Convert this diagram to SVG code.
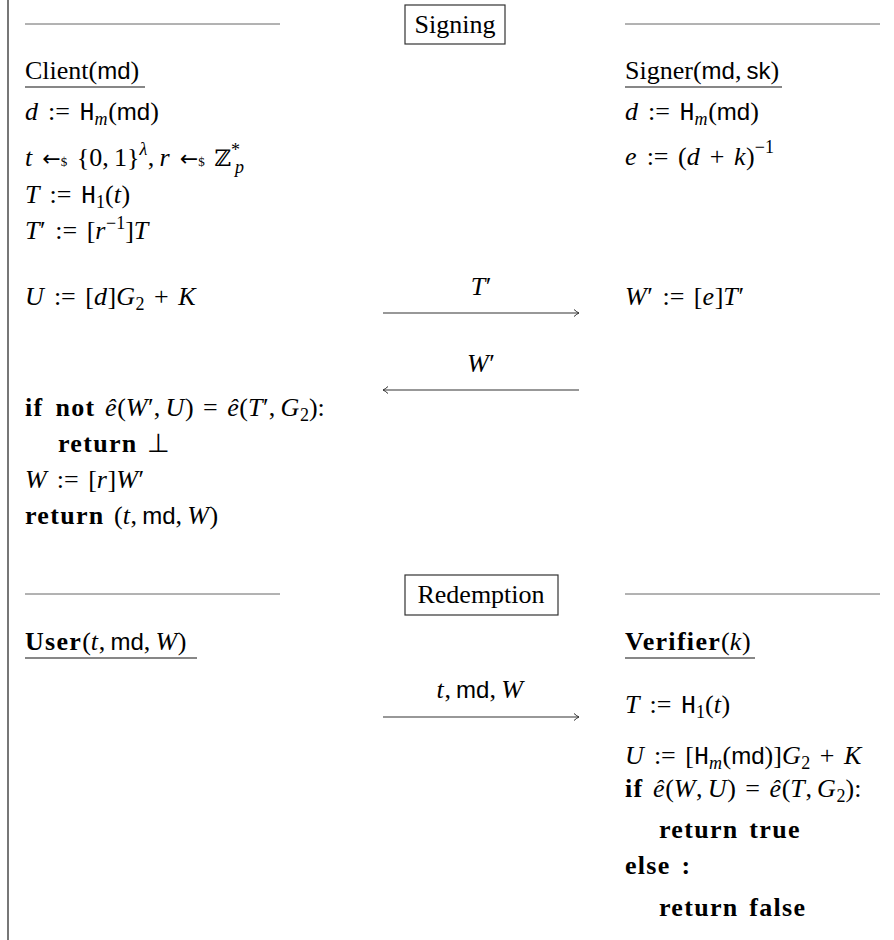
<svg xmlns="http://www.w3.org/2000/svg" width="894" height="940" viewBox="0 0 894 940">
<style>
text{font-family:"Liberation Serif","Times New Roman",serif;font-size:26px;fill:#000;word-spacing:3px}
.i{font-style:italic;letter-spacing:0.6px}
.b{font-weight:bold;letter-spacing:1.3px}
.sf{font-family:"Liberation Sans",Arial,sans-serif;font-size:24px;letter-spacing:0}
.tt{font-family:"Liberation Mono","Courier New",monospace;font-size:25px}
.s{font-size:18px}
.ds{font-size:13px}
.ar{font-family:"DejaVu Sans",sans-serif;font-size:22px}
.bb{font-family:"DejaVu Serif","DejaVu Sans",serif;font-size:23px}
.sep{stroke:#666;stroke-width:1}
.ul{stroke:#111;stroke-width:1.2}
.box{fill:none;stroke:#333;stroke-width:1.2}
.msg{stroke:#333;stroke-width:1.2;fill:none}
.c{text-anchor:middle}
</style>
<defs>
<marker id="ah" markerWidth="10" markerHeight="10" refX="8" refY="5" orient="auto-start-reverse" markerUnits="userSpaceOnUse">
<path d="M3,1.5 Q6,4.2 8,5 Q6,5.8 3,8.5" fill="none" stroke="#333" stroke-width="1"/>
</marker>
</defs>

<line x1="8" y1="0" x2="8" y2="940" stroke="#555" stroke-width="1.6"/>

<g id="signing-header">
<line class="sep" x1="25" y1="24" x2="280" y2="24"/>
<line class="sep" x1="625" y1="24" x2="880" y2="24"/>
<rect class="box" x="405" y="5" width="100" height="39"/>
<text class="c" x="455" y="33">Signing</text>
</g>

<g id="client">
<text x="25" y="79">Client(<tspan class="sf">md</tspan>)</text>
<line class="ul" x1="25" y1="87" x2="145" y2="87"/>
<text x="25" y="120"><tspan class="i">d</tspan> := <tspan class="tt">H</tspan><tspan class="s i" dy="5">m</tspan><tspan dy="-5">(</tspan><tspan class="sf">md</tspan>)</text>
<text x="25" y="166"><tspan class="i">t</tspan> <tspan class="ar">←</tspan><tspan class="ds">$</tspan> {0,&#8201;1}<tspan class="s i" dy="-11">λ</tspan><tspan dy="11">,&#8201;</tspan><tspan class="i">r</tspan> <tspan class="ar">←</tspan><tspan class="ds">$</tspan> <tspan class="bb">ℤ</tspan><tspan class="s" dy="-10">*</tspan><tspan class="s i" dx="-5" dy="17">p</tspan></text>
<text x="25" y="203"><tspan class="i">T</tspan> := <tspan class="tt">H</tspan><tspan class="s" dy="5">1</tspan><tspan dy="-5">(</tspan><tspan class="i">t</tspan>)</text>
<text x="25" y="239"><tspan class="i">T</tspan>′ := [<tspan class="i">r</tspan><tspan class="s" dy="-10">−1</tspan><tspan dy="10">]</tspan><tspan class="i">T</tspan></text>
<text x="25" y="305"><tspan class="i">U</tspan> := [<tspan class="i">d</tspan>]<tspan class="i">G</tspan><tspan class="s" dy="5">2</tspan><tspan dy="-5"> + </tspan><tspan class="i">K</tspan></text>
<text x="25" y="416"><tspan class="b">if</tspan><tspan class="b" dx="12">not</tspan> <tspan class="i">ê</tspan>(<tspan class="i">W</tspan>′,&#8201;<tspan class="i">U</tspan>) = <tspan class="i">ê</tspan>(<tspan class="i">T</tspan>′,&#8201;<tspan class="i">G</tspan><tspan class="s" dy="5">2</tspan><tspan dy="-5">):</tspan></text>
<text x="58" y="452"><tspan class="b">return</tspan> ⊥</text>
<text x="25" y="488"><tspan class="i">W</tspan> := [<tspan class="i">r</tspan>]<tspan class="i">W</tspan>′</text>
<text x="25" y="524"><tspan class="b">return</tspan> (<tspan class="i">t</tspan>,&#8201;<tspan class="sf">md</tspan>,&#8201;<tspan class="i">W</tspan>)</text>
</g>

<g id="signer">
<text x="625" y="79">Signer(<tspan class="sf">md</tspan>,&#8201;<tspan class="sf">sk</tspan>)</text>
<line class="ul" x1="625" y1="87" x2="782" y2="87"/>
<text x="625" y="120"><tspan class="i">d</tspan> := <tspan class="tt">H</tspan><tspan class="s i" dy="5">m</tspan><tspan dy="-5">(</tspan><tspan class="sf">md</tspan>)</text>
<text x="625" y="165"><tspan class="i">e</tspan> := (<tspan class="i">d</tspan> + <tspan class="i">k</tspan>)<tspan class="s" dy="-12">−1</tspan></text>
<text x="625" y="305"><tspan class="i">W</tspan>′ := [<tspan class="i">e</tspan>]<tspan class="i">T</tspan>′</text>
</g>

<g id="redemption-header">
<line class="sep" x1="25" y1="594" x2="280" y2="594"/>
<line class="sep" x1="625" y1="594" x2="880" y2="594"/>
<rect class="box" x="405" y="575" width="153" height="40"/>
<text class="c" x="481" y="603">Redemption</text>
</g>

<g id="user">
<text x="25" y="650"><tspan class="b">User</tspan>(<tspan class="i">t</tspan>,&#8201;<tspan class="sf">md</tspan>,&#8201;<tspan class="i">W</tspan>)</text>
<line class="ul" x1="25" y1="658" x2="197" y2="658"/>
</g>

<g id="verifier">
<text x="625" y="650"><tspan class="b">Verifier</tspan>(<tspan class="i">k</tspan>)</text>
<line class="ul" x1="625" y1="658" x2="755" y2="658"/>
<text x="625" y="713"><tspan class="i">T</tspan> := <tspan class="tt">H</tspan><tspan class="s" dy="5">1</tspan><tspan dy="-5">(</tspan><tspan class="i">t</tspan>)</text>
<text x="625" y="764"><tspan class="i">U</tspan> := [<tspan class="tt">H</tspan><tspan class="s i" dy="5">m</tspan><tspan dy="-5">(</tspan><tspan class="sf">md</tspan>)]<tspan class="i">G</tspan><tspan class="s" dy="5">2</tspan><tspan dy="-5"> + </tspan><tspan class="i">K</tspan></text>
<text x="625" y="797"><tspan class="b">if</tspan> <tspan class="i">ê</tspan>(<tspan class="i">W</tspan>,&#8201;<tspan class="i">U</tspan>) = <tspan class="i">ê</tspan>(<tspan class="i">T</tspan>,&#8201;<tspan class="i">G</tspan><tspan class="s" dy="5">2</tspan><tspan dy="-5">):</tspan></text>
<text x="659" y="838" class="b">return true</text>
<text x="625" y="874" class="b">else :</text>
<text x="659" y="916" class="b">return false</text>
</g>

<g id="connectors">
<line class="msg" x1="383" y1="313" x2="579" y2="313" marker-end="url(#ah)"/>
<text class="c" x="481" y="295"><tspan class="i">T</tspan>′</text>
<line class="msg" x1="383" y1="390" x2="579" y2="390" marker-start="url(#ah)"/>
<text class="c" x="481" y="372"><tspan class="i">W</tspan>′</text>
<line class="msg" x1="383" y1="717" x2="579" y2="717" marker-end="url(#ah)"/>
<text class="c" x="480" y="698"><tspan class="i">t</tspan>,&#8201;<tspan class="sf">md</tspan>,&#8201;<tspan class="i">W</tspan></text>
</g>
</svg>
